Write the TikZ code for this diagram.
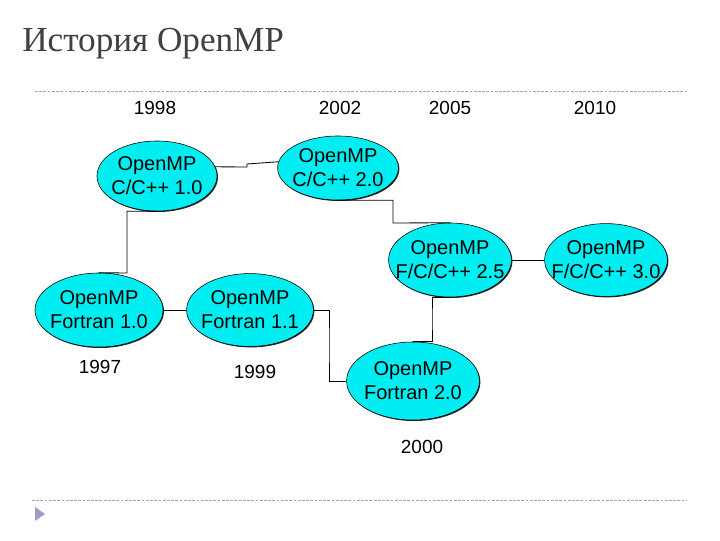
\documentclass[tikz,border=0pt]{standalone}
\usepackage{fontspec}
\setmainfont{Liberation Sans}
\newfontfamily\titlefont{Liberation Serif}
\usetikzlibrary{shapes.geometric,shadows}
\definecolor{aqua}{RGB}{0,238,242}

\begin{document}
\begin{tikzpicture}[
          x=0.025cm, y=-0.025cm,
          ver/.style={
            draw,
            ellipse,
            fill=aqua,
            inner sep=0pt,
            drop shadow={shadow xshift=0.7pt, shadow yshift=-0.7pt,
                         fill=black, opacity=0.85},
            label={[align=center, inner sep=0pt,
                    font=\fontsize{14.2}{17}\selectfont]center:#1},
          },
          year/.style={font=\fontsize{13.5}{15}\selectfont},
          link/.style={black, line width=0.6pt},
          rule/.style={gray!70, line width=0.5pt, dash pattern=on 2pt off 1pt},
        ]
        \useasboundingbox (0,0) rectangle (720,540);
        \node[anchor=base west, inner sep=0pt, text=black!75, font=\titlefont\fontsize{25}{30}\selectfont]
          (title) at (22,51) {История OpenMP};
        \draw[rule] (35,91) -- (687,91);
        \draw[rule] (32,500) -- (687,500);
        \fill[blue!30!gray!60] (35,507) -- (45,514) -- (35,521) -- cycle;
        % years
        \node[year] (y98) at (155,108) {1998};
        \node[year] (y02) at (340,108) {2002};
        \node[year] (y05) at (450,108) {2005};
        \node[year] (y10) at (595,108) {2010};
        \node[year] (y97) at (100,367) {1997};
        \node[year] (y99) at (255,372) {1999};
        \node[year] (y00) at (422,447) {2000};
        % versions
        \node[ver={OpenMP\\C/C++ 1.0}, minimum width=3cm, minimum height=1.75cm] (c10) at (157,176) {};
        \node[ver={OpenMP\\C/C++ 2.0}, minimum width=3.02cm, minimum height=1.6cm] (c20) at (338,168) {};
        \node[ver={OpenMP\\Fortran 1.0}, minimum width=3.2cm, minimum height=1.85cm] (f10) at (99,310) {};
        \node[ver={OpenMP\\Fortran 1.1}, minimum width=3.17cm, minimum height=1.82cm] (f11) at (250,310) {};
        \node[ver={OpenMP\\F/C/C++ 2.5}, minimum width=3.07cm, minimum height=1.85cm] (m25) at (450,260) {};
        \node[ver={OpenMP\\F/C/C++ 3.0}, minimum width=3.07cm, minimum height=1.82cm] (m30) at (606,260) {};
        \node[ver={OpenMP\\Fortran 2.0}, minimum width=3.32cm, minimum height=1.95cm] (f20) at (413,381) {};
        % links
        \draw[link] (c10.9) -- (247,167) -- (247,164) -- (c20.174);
        \draw[link] (c10.south) -| (127,273) -- (f10.north);
        \draw[link] (f10.east) -- (f11.west);
        \draw[link] (f11.east) -| (329,345) |- (f20.west);
        \draw[link] (c20.south) -| (393,223) -- (m25.north);
        \draw[link] (m25.east) -- (m30.west);
        \draw[link] (m25.south) -| (432,319) |- (f20.north);
        \end{tikzpicture}
\end{document}
